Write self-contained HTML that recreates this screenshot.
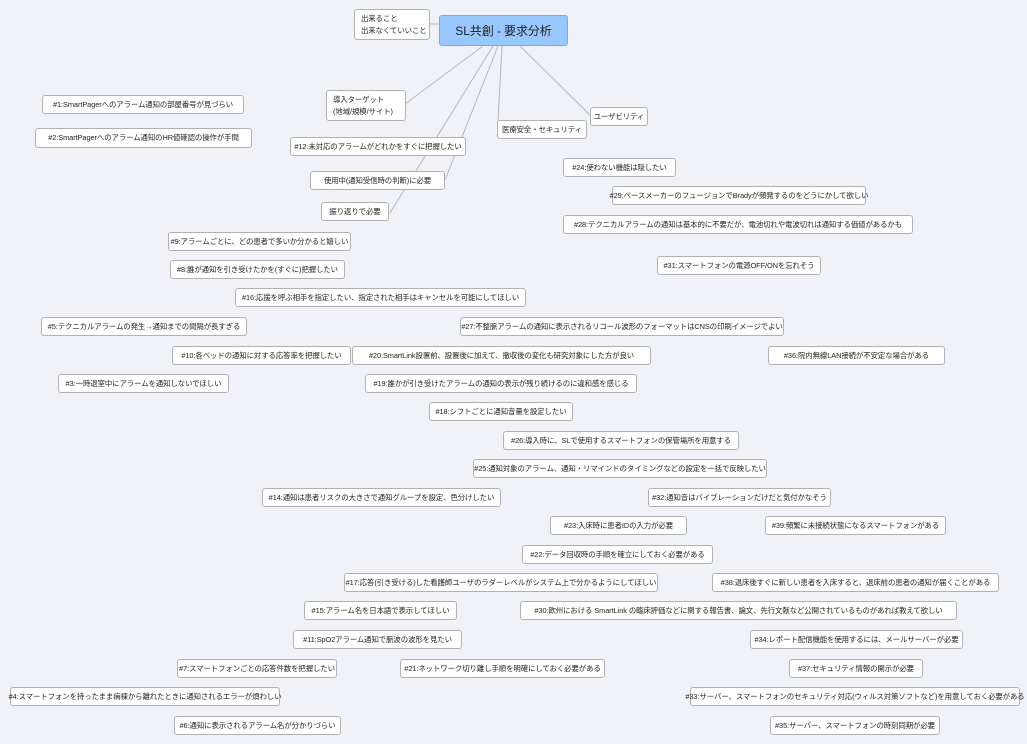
<!DOCTYPE html>
<html><head><meta charset="utf-8"><style>
html,body{margin:0;padding:0}
body{width:1027px;height:744px;background:#f1f2f7;position:relative;overflow:hidden;font-family:"Liberation Sans","Noto Sans CJK JP",sans-serif;color:#222}
.b{position:absolute;box-sizing:border-box;background:#fff;border:1px solid #b0b0b8;border-radius:3px;font-size:7.4px;display:flex;align-items:center;justify-content:center;white-space:nowrap;line-height:12px;letter-spacing:-0.08px}
.l{justify-content:flex-start;padding-left:6px}
svg{position:absolute;left:0;top:0}
</style></head><body>
<svg width="1027" height="744"><g stroke="#b5b5bc" stroke-width="1" fill="none">
<line x1="429" y1="24" x2="439" y2="24"/>
<line x1="483" y1="46" x2="405" y2="104"/>
<line x1="493" y1="46" x2="390" y2="213"/>
<line x1="498" y1="46" x2="445" y2="180"/>
<line x1="502" y1="46" x2="498" y2="120"/>
<line x1="520" y1="46" x2="592" y2="117"/>
</g></svg>
<div class="b" style="left:439px;top:15px;width:129px;height:31px;background:#99c8ff;border-color:#80a8d8;font-size:12px;color:#222">SL共創 - 要求分析</div>
<div class="b l" style="left:354px;top:9px;width:76px;height:31px;display:block;padding-top:3px">出来ること<br>出来なくていいこと</div>
<div class="b l" style="left:326px;top:90px;width:80px;height:31px;display:block;padding-top:3px">導入ターゲット<br>(地域/規模/サイト)</div>
<div class="b" style="left:497px;top:120px;width:90px;height:19px">医療安全・セキュリティ</div>
<div class="b" style="left:590px;top:107px;width:58px;height:19px">ユーザビリティ</div>
<div class="b" style="left:42px;top:95px;width:202px;height:19px">#1:SmartPagerへのアラーム通知の部屋番号が見づらい</div>
<div class="b" style="left:35px;top:128px;width:217px;height:20px">#2:SmartPagerへのアラーム通知のHR値確認の操作が手間</div>
<div class="b" style="left:290px;top:137px;width:176px;height:19px">#12:未対応のアラームがどれかをすぐに把握したい</div>
<div class="b" style="left:310px;top:171px;width:135px;height:19px">使用中(通知受信時の判断)に必要</div>
<div class="b" style="left:321px;top:202px;width:68px;height:19px">振り返りで必要</div>
<div class="b" style="left:168px;top:232px;width:183px;height:19px">#9:アラームごとに、どの患者で多いか分かると嬉しい</div>
<div class="b" style="left:170px;top:260px;width:175px;height:19px">#8:誰が通知を引き受けたかを(すぐに)把握したい</div>
<div class="b" style="left:235px;top:288px;width:291px;height:19px">#16:応援を呼ぶ相手を指定したい、指定された相手はキャンセルを可能にしてほしい</div>
<div class="b" style="left:41px;top:317px;width:206px;height:19px">#5:テクニカルアラームの発生→通知までの間隔が長すぎる</div>
<div class="b" style="left:172px;top:346px;width:179px;height:19px">#10:各ベッドの通知に対する応答率を把握したい</div>
<div class="b" style="left:352px;top:346px;width:299px;height:19px">#20:SmartLink設置前、設置後に加えて、撤収後の変化も研究対象にした方が良い</div>
<div class="b" style="left:58px;top:374px;width:171px;height:19px">#3:一時退室中にアラームを通知しないでほしい</div>
<div class="b" style="left:365px;top:374px;width:272px;height:19px">#19:誰かが引き受けたアラームの通知の表示が残り続けるのに違和感を感じる</div>
<div class="b" style="left:429px;top:402px;width:144px;height:19px">#18:シフトごとに通知音量を設定したい</div>
<div class="b" style="left:563px;top:158px;width:113px;height:19px">#24:使わない機能は隠したい</div>
<div class="b" style="left:612px;top:186px;width:254px;height:19px">#29:ペースメーカーのフュージョンでBradyが頻発するのをどうにかして欲しい</div>
<div class="b" style="left:563px;top:215px;width:350px;height:19px">#28:テクニカルアラームの通知は基本的に不要だが、電池切れや電波切れは通知する価値があるかも</div>
<div class="b" style="left:657px;top:256px;width:164px;height:19px">#31:スマートフォンの電源OFF/ONを忘れそう</div>
<div class="b" style="left:460px;top:317px;width:324px;height:19px">#27:不整脈アラームの通知に表示されるリコール波形のフォーマットはCNSの印刷イメージでよい</div>
<div class="b" style="left:768px;top:346px;width:177px;height:19px">#36:院内無線LAN接続が不安定な場合がある</div>
<div class="b" style="left:503px;top:431px;width:236px;height:19px">#26:導入時に、SLで使用するスマートフォンの保管場所を用意する</div>
<div class="b" style="left:473px;top:459px;width:294px;height:19px">#25:通知対象のアラーム、通知・リマインドのタイミングなどの設定を一括で反映したい</div>
<div class="b" style="left:262px;top:488px;width:239px;height:19px">#14:通知は患者リスクの大きさで通知グループを設定、色分けしたい</div>
<div class="b" style="left:648px;top:488px;width:183px;height:19px">#32:通知音はバイブレーションだけだと気付かなそう</div>
<div class="b" style="left:550px;top:516px;width:137px;height:19px">#23:入床時に患者IDの入力が必要</div>
<div class="b" style="left:765px;top:516px;width:181px;height:19px">#39:頻繁に未接続状態になるスマートフォンがある</div>
<div class="b" style="left:522px;top:545px;width:191px;height:19px">#22:データ回収時の手順を確立にしておく必要がある</div>
<div class="b" style="left:344px;top:573px;width:314px;height:19px">#17:応答(引き受ける)した看護師ユーザのラダーレベルがシステム上で分かるようにしてほしい</div>
<div class="b" style="left:712px;top:573px;width:287px;height:19px">#38:退床後すぐに新しい患者を入床すると、退床前の患者の通知が届くことがある</div>
<div class="b" style="left:304px;top:601px;width:153px;height:19px">#15:アラーム名を日本語で表示してほしい</div>
<div class="b" style="left:520px;top:601px;width:437px;height:19px">#30:欧州における SmartLink の臨床評価などに関する報告書、論文、先行文献など公開されているものがあれば教えて欲しい</div>
<div class="b" style="left:293px;top:630px;width:169px;height:19px">#11:SpO2アラーム通知で脈波の波形を見たい</div>
<div class="b" style="left:750px;top:630px;width:213px;height:19px">#34:レポート配信機能を使用するには、メールサーバーが必要</div>
<div class="b" style="left:177px;top:659px;width:160px;height:19px">#7:スマートフォンごとの応答件数を把握したい</div>
<div class="b" style="left:400px;top:659px;width:205px;height:19px">#21:ネットワーク切り離し手順を明確にしておく必要がある</div>
<div class="b" style="left:789px;top:659px;width:134px;height:19px">#37:セキュリティ情報の開示が必要</div>
<div class="b" style="left:10px;top:687px;width:270px;height:19px">#4:スマートフォンを持ったまま病棟から離れたときに通知されるエラーが煩わしい</div>
<div class="b" style="left:690px;top:687px;width:330px;height:19px">#33:サーバー、スマートフォンのセキュリティ対応(ウィルス対策ソフトなど)を用意しておく必要がある</div>
<div class="b" style="left:174px;top:716px;width:167px;height:19px">#6:通知に表示されるアラーム名が分かりづらい</div>
<div class="b" style="left:770px;top:716px;width:170px;height:19px">#35:サーバー、スマートフォンの時刻同期が必要</div>
</body></html>
